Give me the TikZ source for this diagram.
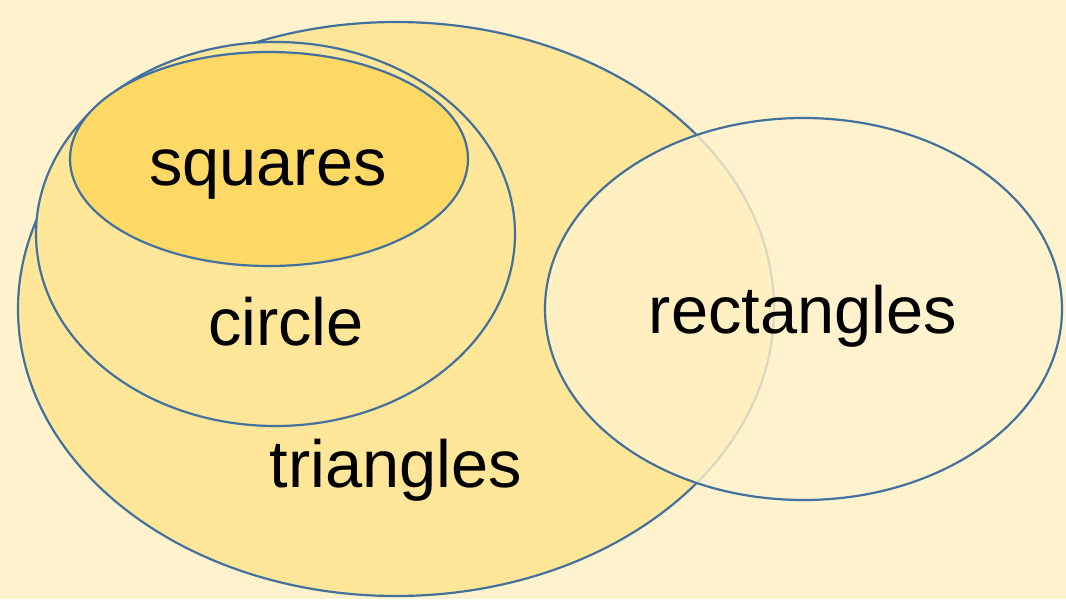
\documentclass[tikz,border=0pt]{standalone}
\usepackage{fontspec}
\setmainfont{Liberation Sans}
\usepackage{tikz}
\usetikzlibrary{shapes.geometric}
\definecolor{bgc}{HTML}{FFF2CC}
\definecolor{lite}{HTML}{FFE699}
\definecolor{gold}{HTML}{FFD966}
\definecolor{edge}{HTML}{41719C}
\tikzset{
  st/.style={ellipse,draw=edge,line width=1.25pt,inner sep=0pt},
  lb/.style={font=\fontsize{38}{40}\selectfont,anchor=base,inner sep=0pt},
}

\begin{document}
\begin{tikzpicture}[x=0.02cm,y=-0.02cm]
\fill[bgc] (0,0) rectangle (1066,599);
\useasboundingbox (0,0) rectangle (1066,599);
% ---- nested sets
\node[st,fill=lite,minimum width=756*0.02cm,minimum height=574*0.02cm] (tri) at (396,309) {};
\node[st,fill=lite,minimum width=479*0.02cm,minimum height=384*0.02cm] (cir) at (275.5,234) {};
\node[st,fill=gold,minimum width=398*0.02cm,minimum height=214*0.02cm] (sqr) at (269,159) {};
% ---- overlapping set
\node[st,fill=bgc,fill opacity=0.8,minimum width=517*0.02cm,minimum height=382*0.02cm] (rct) at (803.5,309) {};
% ---- labels
\node[lb] (lsqr) at (268,185) {squares};
\node[lb] (lcir) at (286,345) {circle};
\node[lb] (ltri) at (396,487) {triangles};
\node[lb] (lrct) at (803,333) {rectangles};
\end{tikzpicture}
\end{document}
